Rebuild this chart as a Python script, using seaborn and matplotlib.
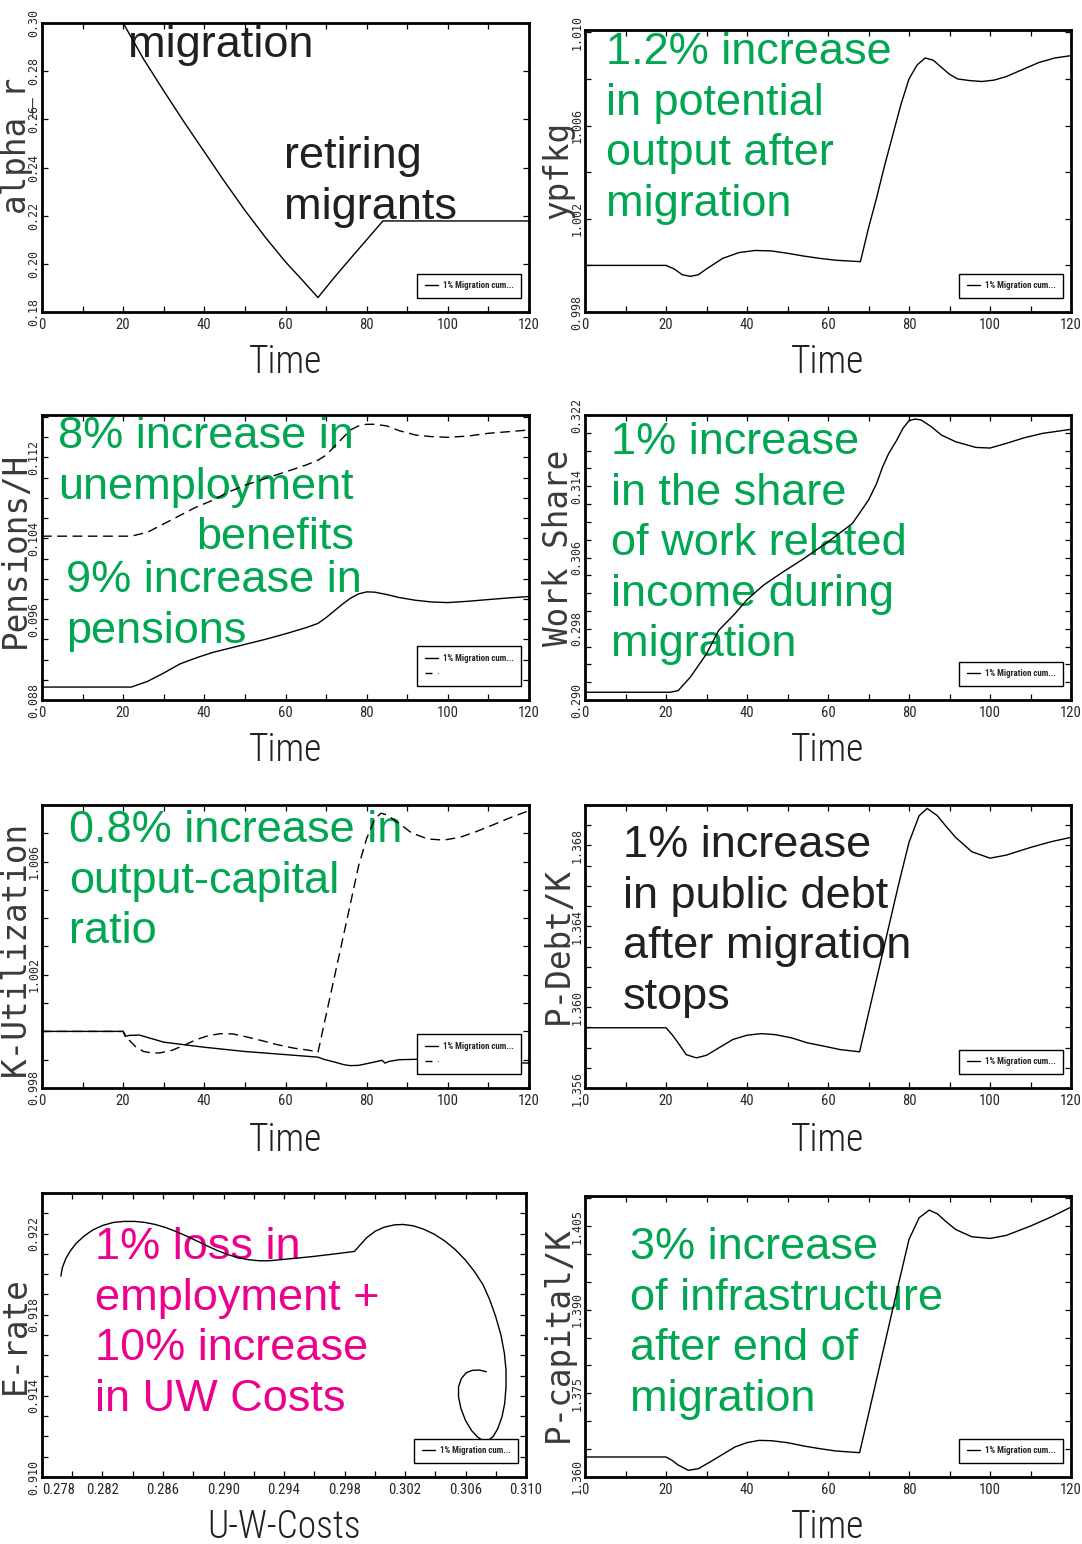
import matplotlib
matplotlib.use("Agg")
import matplotlib.pyplot as plt
from matplotlib.lines import Line2D
from matplotlib.ticker import FixedLocator, FormatStrFormatter
from matplotlib.font_manager import FontProperties, fontManager
import numpy as np
import pandas as pd
import seaborn as sns

# ---------------------------------------------------------------- data
# alpha_r
t_alpha = [0, 20, 25, 30, 35, 40, 45, 50, 55, 60, 64, 68, 72, 76, 80, 84, 120]
alpha_r = [0.300, 0.300, 0.2851, 0.2718, 0.2589, 0.2465, 0.2341, 0.2222, 0.2111,
           0.2008, 0.1935, 0.1860, 0.1943, 0.2022, 0.2100, 0.2178, 0.2178]

# ypfkg (potential output)
t_ypfkg = [0, 20, 22, 24, 26, 28, 30, 34, 38, 42, 46, 50, 54, 58, 62, 66, 68, 70, 72,
           74, 76, 78, 80, 82, 84, 86, 88, 90, 92, 95, 98, 101, 104, 108, 112, 116, 120]
ypfkg = [1.0000, 1.0000, 0.99985, 0.9996, 0.99953, 0.9996, 0.99985, 1.0003, 1.00055,
         1.00064, 1.00062, 1.00052, 1.0004, 1.0003, 1.00022, 1.00018, 1.00016, 1.0016,
         1.0029, 1.0043, 1.0056, 1.0069, 1.0080, 1.0086, 1.0089, 1.0088, 1.0085, 1.0082,
         1.0080, 1.00793, 1.00789, 1.00795, 1.0081, 1.0084, 1.0087, 1.0089, 1.0090]

# Pensions/H (solid) and unemployment benefits (dashed)
t_pens = [0, 22, 26, 30, 34, 38, 42, 46, 50, 55, 60, 65, 68, 70, 72, 74, 76, 78, 80,
          82, 85, 88, 92, 96, 100, 105, 110, 115, 120]
pensions = [0.08928, 0.08928, 0.08984, 0.09067, 0.09157, 0.09217, 0.0927, 0.0931,
            0.0935, 0.0940, 0.09455, 0.09515, 0.09558, 0.09615, 0.09681, 0.09747,
            0.09807, 0.0985, 0.0987, 0.09867, 0.09843, 0.09814, 0.09787, 0.0977,
            0.09764, 0.09777, 0.09794, 0.0981, 0.09824]
unemp_benefits = [0.10421, 0.10421, 0.1046, 0.10543, 0.10626, 0.10709, 0.10775,
                  0.10858, 0.10925, 0.10991, 0.11057, 0.11124, 0.11173, 0.11223,
                  0.11306, 0.11389, 0.11472, 0.11512, 0.11528, 0.11528, 0.11512,
                  0.11465, 0.11422, 0.11406, 0.11399, 0.11412, 0.11439, 0.11455, 0.11472]

# Work Share
t_work = [0, 21, 23, 26, 30, 33, 37, 40, 44, 48.5, 54, 60, 66, 68, 70, 72, 73.5, 75,
          77, 78.5, 80, 81.5, 83, 85.5, 88, 91.5, 96.5, 100, 104, 108.5, 113, 120]
work_share = [0.29087, 0.29087, 0.29105, 0.29256, 0.29518, 0.29781, 0.29968, 0.30126,
              0.30287, 0.30426, 0.30587, 0.30775, 0.30981, 0.31112, 0.31244, 0.31431,
              0.31619, 0.31769, 0.31919, 0.3205, 0.32136, 0.32155, 0.32144, 0.32069,
              0.31975, 0.319, 0.31836, 0.31829, 0.31881, 0.31945, 0.31994, 0.32039]

# K-Utilization (solid) and output-capital ratio (dashed)
t_kutil = [0, 20, 20.5, 21.5, 24, 30, 40, 50, 60, 68, 69.5, 72, 74.5, 76, 78, 80, 82,
           83.8, 84.5, 85.5, 88, 94, 100, 110, 120]
k_util = [1.0000, 1.0000, 0.99982, 0.99986, 0.99987, 0.99962, 0.99944, 0.99929,
          0.99918, 0.99909, 0.99901, 0.99892, 0.99882, 0.99879, 0.99880, 0.99886,
          0.99892, 0.99898, 0.99888, 0.99894, 0.99900, 0.99902, 0.99898, 0.99892, 0.99888]
t_ycap = [0, 20, 21, 23, 25, 27, 29, 32, 35, 38, 41, 44, 47, 50, 54, 58, 62, 66, 68,
          70, 72, 74, 76, 78, 80, 82, 83.5, 85, 88, 91, 95, 99, 103, 107, 111, 115, 120]
y_cap = [1.0000, 1.0000, 0.99976, 0.99947, 0.99929, 0.99924, 0.99924, 0.99933, 0.99951,
         0.99971, 0.99985, 0.99992, 0.99991, 0.99982, 0.99968, 0.99953, 0.99941,
         0.99933, 0.99926, 1.00058, 1.00189, 1.0032, 1.00452, 1.00584, 1.00682, 1.0075,
         1.00771, 1.00765, 1.00735, 1.00702, 1.0068, 1.00676, 1.00686, 1.00706, 1.00729,
         1.00753, 1.0078]

# P-Debt/K
t_debt = [0, 20, 21.5, 23, 25, 27.5, 30, 33, 36.5, 40, 43.5, 47, 51, 55, 59, 63, 67.8,
          70, 72.5, 75, 77.5, 80, 82.5, 84.5, 87, 89, 91.5, 95.5, 100, 104, 110, 115, 120]
p_debt = [1.35898, 1.35898, 1.35864, 1.35823, 1.35765, 1.35749, 1.35762, 1.35798,
          1.3584, 1.35861, 1.35869, 1.35864, 1.35848, 1.35823, 1.35807, 1.3579, 1.35779,
          1.35969, 1.36183, 1.36398, 1.36613, 1.36815, 1.36947, 1.36983, 1.36947,
          1.36898, 1.3684, 1.36769, 1.36737, 1.36752, 1.3679, 1.36818, 1.3684]

# P-capital/K
t_pcap = [0, 20, 21.5, 23, 25.5, 28, 31, 34, 37, 40, 43, 46, 50, 54, 58, 62, 67.8, 70,
          72.5, 75, 77.5, 80, 82.5, 85, 87, 89, 91.5, 95.5, 100, 104, 110, 115, 120]
p_capital = [1.36359, 1.36359, 1.36299, 1.36215, 1.3612, 1.36149, 1.36275, 1.36406,
             1.36538, 1.36616, 1.36657, 1.36651, 1.36616, 1.36556, 1.36508, 1.36466,
             1.36436, 1.37124, 1.37912, 1.38701, 1.3949, 1.40261, 1.40649, 1.40787,
             1.40721, 1.40589, 1.4044, 1.40309, 1.40279, 1.40333, 1.40501, 1.40661, 1.40841]

# E-rate against U-W-Costs (phase path)
uw_costs = [0.27925, 0.27934, 0.27957, 0.27987, 0.28026, 0.28079, 0.28136, 0.28205,
            0.28273, 0.28342, 0.28411, 0.28480, 0.28548, 0.28617, 0.28686, 0.28755,
            0.28823, 0.28892, 0.28961, 0.29030, 0.29099, 0.29167, 0.29236, 0.29305,
            0.29374, 0.29442, 0.29580, 0.29717, 0.29866, 0.29901, 0.29947, 0.30004,
            0.30061, 0.30130, 0.30187, 0.30256, 0.30325, 0.30393, 0.30462, 0.30531,
            0.30600, 0.30657, 0.30715, 0.30760, 0.30799, 0.30834, 0.30857, 0.30868,
            0.30868, 0.30859, 0.30841, 0.30813, 0.30783, 0.30749, 0.30715, 0.30680,
            0.30639, 0.30600, 0.30570, 0.30554, 0.30554, 0.30573, 0.30605, 0.30646,
            0.30692, 0.30738]
e_rate = [0.91990, 0.92031, 0.92076, 0.92114, 0.92152, 0.92188, 0.92218, 0.92241,
          0.92255, 0.92260, 0.92260, 0.92255, 0.92245, 0.92230, 0.92210, 0.92188,
          0.92164, 0.92139, 0.92116, 0.92096, 0.92081, 0.92071, 0.92066, 0.92066,
          0.92071, 0.92076, 0.92086, 0.92098, 0.92112, 0.92142, 0.92180, 0.92212,
          0.92231, 0.92243, 0.92245, 0.92238, 0.92221, 0.92197, 0.92164, 0.92122,
          0.92069, 0.92015, 0.91949, 0.91874, 0.91792, 0.91701, 0.91610, 0.91527,
          0.91445, 0.91362, 0.91296, 0.91238, 0.91200, 0.91180, 0.91180, 0.91197,
          0.91230, 0.91279, 0.91337, 0.91395, 0.91445, 0.91486, 0.91514, 0.91526,
          0.91527, 0.91519]

# axis ticks
time_ticks = [0, 20, 40, 60, 80, 100, 120]
alpha_ticks = [0.18, 0.20, 0.22, 0.24, 0.26, 0.28, 0.30]
ypfkg_ticks = [0.998, 1.002, 1.006, 1.010]
pens_ticks = [0.088, 0.096, 0.104, 0.112]
work_ticks = [0.290, 0.298, 0.306, 0.314, 0.322]
kutil_ticks = [0.998, 1.002, 1.006]
debt_ticks = [1.356, 1.360, 1.364, 1.368]
erate_ticks = [0.910, 0.914, 0.918, 0.922]
cost_ticks = [0.278, 0.282, 0.286, 0.290, 0.294, 0.298, 0.302, 0.306, 0.310]
pcap_ticks = [1.360, 1.375, 1.390, 1.405]

legend_label = "1% Migration cum..."

# ---------------------------------------------------------------- style
sns.set_theme(style="ticks")
names = {f.name for f in fontManager.ttflist}


def first_font(*cands):
    for c in cands:
        if c in names:
            return c
    return "DejaVu Sans"


SANS = first_font("Liberation Sans", "Arimo", "DejaVu Sans")
NARROW = first_font("Liberation Sans Narrow", "Roboto Condensed", "DejaVu Sans Condensed",
                    "Open Sans Condensed", "DejaVu Sans")
MONO = first_font("DejaVu Sans Mono", "Liberation Mono")
plt.rcParams["font.family"] = [SANS, "DejaVu Sans"]
plt.rcParams.update({
    "axes.linewidth": 2.0,
    "axes.edgecolor": "black",
    "xtick.direction": "in", "ytick.direction": "in",
    "xtick.top": True, "ytick.right": True,
})

GREEN = "#00A651"
MAGENTA = "#EC008C"
DARK = "#231F20"

W, H = 1082, 1544
fig = plt.figure(figsize=(W / 100, H / 100), dpi=100)

tick_x_fp = FontProperties(family=[NARROW, "DejaVu Sans"], stretch="condensed", size=10.5)
tick_y_fp = FontProperties(family=[MONO, "DejaVu Sans"], size=8.4)
ylab_fp = FontProperties(family=[MONO, "DejaVu Sans"], size=23.5)
xlab_fp = FontProperties(family=[NARROW, "DejaVu Sans"], stretch="condensed",
                         weight="light", size=27)
leg_fp = FontProperties(family=[NARROW, "DejaVu Sans"], stretch="condensed",
                        weight="bold", size=6.4)
note_fp = FontProperties(family=[SANS, "DejaVu Sans"], size=32.5)


def make_axes(rect, xlim, ylim, xmaj, xmin_step, ymaj, ymin_step, yfmt, xfmt,
              xlabel, ylabel, ylab_c, xlab_y):
    L, T, R, B = rect
    ax = fig.add_axes([L / W, 1 - B / H, (R - L) / W, (B - T) / H])
    ax._rect = rect
    ax._labels = (xlabel, ylabel, ylab_c, xlab_y)
    ax.set_xlim(*xlim)
    ax.set_ylim(*ylim)
    ax.xaxis.set_major_locator(FixedLocator(xmaj))
    ax.yaxis.set_major_locator(FixedLocator(ymaj))
    xm = np.arange(xlim[0], xlim[1] + 1e-9, xmin_step)
    ax.xaxis.set_minor_locator(FixedLocator([v for v in xm if min(abs(v - m) for m in xmaj) > 1e-9]))
    if ymin_step:
        ym = np.arange(ymaj[0], ylim[1] + 1e-9, ymin_step)
        ax.yaxis.set_minor_locator(FixedLocator([v for v in ym if min(abs(v - m) for m in ymaj) > 1e-9]))
    else:
        ax.yaxis.set_minor_locator(FixedLocator([]))
    ax.xaxis.set_major_formatter(FormatStrFormatter(xfmt))
    ax.yaxis.set_major_formatter(FormatStrFormatter(yfmt))
    ax.tick_params(which="both", length=4.5, width=0.9, color="black")
    ax.tick_params(axis="x", pad=4)
    ax.tick_params(axis="y", pad=1.0, labelrotation=90)
    for s in ax.spines.values():
        s.set_linewidth(2.0)
    ax.set_facecolor("white")
    return ax


def finish_axes(ax):
    L, T, R, B = ax._rect
    xlabel, ylabel, ylab_c, xlab_y = ax._labels
    w, h = R - L, B - T
    ax.set_xlabel(xlabel, fontproperties=xlab_fp, color=DARK)
    ax.set_ylabel(ylabel, fontproperties=ylab_fp, color="#3a3a3a")
    ax.xaxis.label.set_va("center")
    ax.yaxis.label.set_va("center")
    ax.yaxis.set_label_coords((ylab_c[0] - L) / w, (B - ylab_c[1]) / h)
    ax.xaxis.set_label_coords(0.5, (B - xlab_y) / h)
    for lab in ax.get_xticklabels():
        lab.set_fontproperties(tick_x_fp)
    for lab in ax.get_yticklabels():
        lab.set_fontproperties(tick_y_fp)
        lab.set_va("center")


def add_legend(ax, two=False):
    L, T, R, B = ax._rect
    handles = [Line2D([], [], color="black", lw=1.0)]
    labels = [legend_label]
    if two:
        handles.append(Line2D([], [], color="black", lw=1.0, ls=(0, (5, 4))))
        labels.append(" ")
    leg = ax.legend(handles, labels, loc="lower right",
                    bbox_to_anchor=(1 - 8 / (R - L), 14 / (B - T)),
                    bbox_transform=ax.transAxes, borderaxespad=0, frameon=True,
                    fancybox=False, framealpha=1, edgecolor="black", prop=leg_fp,
                    handlelength=1.5, handletextpad=0.5, borderpad=0.85,
                    labelspacing=0.75)
    leg.get_frame().set_linewidth(1.0)
    leg.set_zorder(5)


def note(ax, text, x, top, color, ha="left"):
    L, T, R, B = ax._rect
    ax.text((x - L) / (R - L), (B - top) / (B - T), text, transform=ax.transAxes,
            ha=ha, va="top", multialignment=ha, color=color, fontproperties=note_fp,
            linespacing=1.3, zorder=1.5)


def line(ax, x, y, dashed=False, sort=True):
    df = pd.DataFrame({"x": x, "y": y})
    kw = dict(linestyle=(0, (7, 4))) if dashed else {}
    sns.lineplot(data=df, x="x", y="y", ax=ax, color="black", linewidth=1.0,
                 estimator=None, sort=sort, legend=False, zorder=2, **kw)


# ---------------------------------------------------------------- panels
LC, RC = (42, 529), (585, 1071)
YL_L, YL_R = 15, 558

ax1 = make_axes((LC[0], 23, LC[1], 312), (0, 120), (0.18, 0.30), time_ticks, 10,
                alpha_ticks, None, "%.2f", "%d", "Time", "alpha_r", (YL_L, 143), 362)
line(ax1, t_alpha, alpha_r)
note(ax1, "migration", 128, 25, DARK)
note(ax1, "retiring\nmigrants", 284, 136, DARK)
add_legend(ax1)

ax2 = make_axes((RC[0], 30, RC[1], 312), (0, 120), (0.998, 1.0101), time_ticks, 10,
                ypfkg_ticks, 0.002, "%.3f", "%d", "Time", "ypfkg", (YL_R, 170), 362)
line(ax2, t_ypfkg, ypfkg)
note(ax2, "1.2% increase\nin potential\noutput after\nmigration", 606, 32, GREEN)
add_legend(ax2)

ax3 = make_axes((LC[0], 415, LC[1], 700), (0, 120), (0.088, 0.1162), time_ticks, 10,
                pens_ticks, 0.002, "%.3f", "%d", "Time", "Pensions/H", (YL_L, 550), 750)
line(ax3, t_pens, pensions)
line(ax3, t_pens, unemp_benefits, dashed=True)
note(ax3, "8% increase in\nunemployment\nbenefits", 354, 416, GREEN, ha="right")
note(ax3, "9% increase in\npensions", 66, 560, GREEN)
add_legend(ax3, two=True)

ax4 = make_axes((RC[0], 415, RC[1], 700), (0, 120), (0.290, 0.322), time_ticks, 10,
                work_ticks, 0.002, "%.3f", "%d", "Time", "Work Share", (YL_R, 548), 750)
line(ax4, t_work, work_share)
note(ax4, "1% increase\nin the share\nof work related\nincome during\nmigration", 611, 422, GREEN)
add_legend(ax4)

ax5 = make_axes((LC[0], 805, LC[1], 1088), (0, 120), (0.998, 1.008), time_ticks, 10,
                kutil_ticks, 0.001, "%.3f", "%d", "Time", "K-Utilization", (YL_L, 948), 1140)
line(ax5, t_kutil, k_util)
line(ax5, t_ycap, y_cap, dashed=True)
note(ax5, "0.8% increase in\noutput-capital\nratio", 69, 810, GREEN)
add_legend(ax5, two=True)

ax6 = make_axes((RC[0], 805, RC[1], 1088), (0, 120), (1.356, 1.370), time_ticks, 10,
                debt_ticks, 0.001, "%.3f", "%d", "Time", "P-Debt/K", (YL_R, 945), 1140)
line(ax6, t_debt, p_debt)
note(ax6, "1% increase\nin public debt\nafter migration\nstops", 623, 825, DARK)
add_legend(ax6)

ax7 = make_axes((LC[0], 1193, 526, 1477), (0.278, 0.310), (0.910, 0.924), cost_ticks, 0.002,
                erate_ticks, 0.001, "%.3f", "%.3f", "U-W-Costs", "E-rate", (YL_L, 1335), 1527)
line(ax7, uw_costs, e_rate, sort=False)
note(ax7, "1% loss in\nemployment +\n10% increase\nin UW Costs", 95, 1227, MAGENTA)
add_legend(ax7)

ax8 = make_axes((RC[0], 1196, RC[1], 1477), (0, 120), (1.360, 1.4104), time_ticks, 10,
                pcap_ticks, 0.005, "%.3f", "%d", "Time", "P-capital/K", (YL_R, 1334), 1527)
line(ax8, t_pcap, p_capital)
note(ax8, "3% increase\nof infrastructure\nafter end of\nmigration", 630, 1227, GREEN)
add_legend(ax8)

for ax in (ax1, ax2, ax3, ax4, ax5, ax6, ax7, ax8):
    finish_axes(ax)

# keep the first cost label inside the frame
ax7.get_xticklabels()[0].set_ha("left")

fig.savefig("out.png", dpi=100, facecolor="white")
